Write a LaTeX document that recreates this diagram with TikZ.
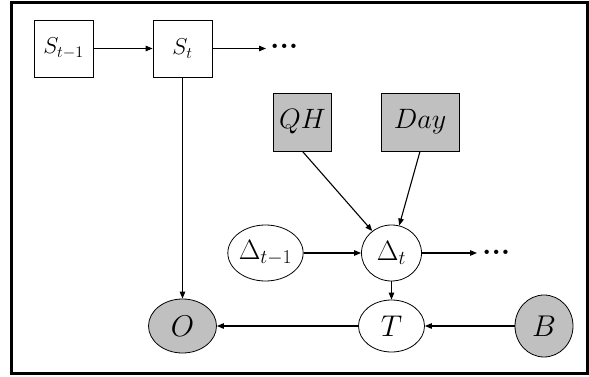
\RequirePackage{fix-cm}
\documentclass[tikz,border=0pt]{standalone}
\usetikzlibrary{arrows.meta,shapes.geometric}
\definecolor{nodegray}{HTML}{C0C0C0}
\tikzset{
  box/.style={draw=black, line width=0.8pt, rectangle, inner sep=0pt},
  circ/.style={draw=black, line width=0.8pt, ellipse, inner sep=0pt},
  shaded/.style={fill=nodegray},
  conn/.style={line width=1.1pt, -{Triangle[length=7pt,width=5.5pt]}},
  dotsnode/.style={inner sep=0pt, font=\fontsize{30pt}{30pt}\selectfont\bfseries},
}
\begin{document}
\begin{tikzpicture}[x=1pt,y=-1pt]
\useasboundingbox (0,0) rectangle (589,377);
\draw[line width=3pt] (11.5,3) rectangle (587,373.5);

\node[box, minimum width=59pt, minimum height=57pt, font=\fontsize{23pt}{23pt}\selectfont] (S1) at (63.5,48.5) {$S_{t-1}$};
\node[box, minimum width=59pt, minimum height=57pt, font=\fontsize{23pt}{23pt}\selectfont] (S2) at (182.5,48.5) {$S_{t}$};
\coordinate (e1) at (266,48.5);
\node[dotsnode, anchor=west] (d1) at (270,46.5) {...};

\node[box, shaded, minimum width=58pt, minimum height=58pt, font=\fontsize{28pt}{28pt}\selectfont] (QH) at (302.5,122) {$QH$};
\node[box, shaded, minimum width=78pt, minimum height=58pt, font=\fontsize{28pt}{28pt}\selectfont] (Day) at (420,122) {$Day$};

\node[circ, minimum width=61pt, minimum height=56pt, font=\fontsize{28pt}{28pt}\selectfont] (Dm) at (265.5,253) {$\Delta_{t-1}$};
\node[circ, minimum width=60pt, minimum height=56pt, font=\fontsize{28pt}{28pt}\selectfont] (Dt) at (391.5,253) {$\Delta_{t}$};
\coordinate (e2) at (477,253);
\node[dotsnode, anchor=west] (d2) at (482,252) {...};

\node[circ, minimum width=66pt, minimum height=52pt, font=\fontsize{30pt}{30pt}\selectfont] (T) at (391.5,326) {$T$};
\node[circ, shaded, minimum width=68pt, minimum height=54pt, font=\fontsize{30pt}{30pt}\selectfont] (O) at (182.5,326) {$O$};
\node[circ, shaded, minimum width=58pt, minimum height=62pt, font=\fontsize{30pt}{30pt}\selectfont] (B) at (544,326) {$B$};

\draw[conn] (S1) -- (S2);
\draw[conn] (S2) -- (e1);
\draw[conn] (S2) -- (O);
\draw[conn] (QH.south) -- (Dt);
\draw[conn] (Day.south) -- (Dt);
\draw[conn] (Dm) -- (Dt);
\draw[conn] (Dt) -- (e2);
\draw[conn] (Dt) -- (T);
\draw[conn] (B) -- (T);
\draw[conn] (T) -- (O);
\end{tikzpicture}
\end{document}
